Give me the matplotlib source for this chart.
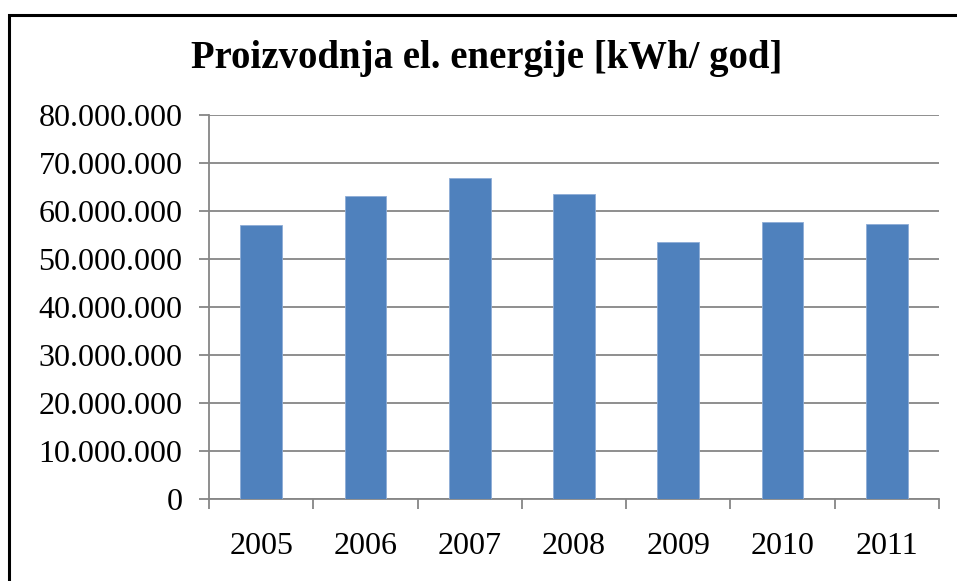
import matplotlib.pyplot as plt
from matplotlib.patches import Rectangle
from matplotlib.ticker import FuncFormatter, MultipleLocator

# data
years = ['2005', '2006', '2007', '2008', '2009', '2010', '2011']
energy_kwh = [57.0e6, 63.1e6, 66.8e6, 63.5e6, 53.5e6, 57.6e6, 57.2e6]

title = 'Proizvodnja el. energije [kWh/ god]'

plt.rcParams['font.family'] = ['Liberation Serif', 'DejaVu Serif']

fig = plt.figure(figsize=(9.57, 5.81), dpi=100)
ax = fig.add_axes([0.2184, 0.1417, 0.7628, 0.6604])

x = range(len(years))
ax.bar(x, energy_kwh, width=0.4, color='#4F81BD', edgecolor='#8EACD6',
       linewidth=0.6, zorder=3)

ax.set_xlim(-0.5, len(years) - 0.5)
ax.set_ylim(0, 80e6)
ax.yaxis.set_major_locator(MultipleLocator(10e6))
ax.yaxis.set_major_formatter(
    FuncFormatter(lambda v, p: f'{int(v):,}'.replace(',', '.')))

# ticks between categories, labels in the middle
ax.set_xticks([i - 0.5 for i in range(len(years) + 1)])
ax.set_xticklabels([])
ax.set_xticks(list(x), minor=True)
ax.set_xticklabels(years, minor=True)
ax.tick_params(axis='x', which='minor', length=0, pad=24, labelsize=23)
ax.tick_params(axis='x', which='major', length=7, width=1.3, color='#868686',
               direction='out')
ax.tick_params(axis='y', length=7, width=1.3, color='#868686', pad=12,
               labelsize=23, direction='out')

ax.grid(axis='y', color='#868686', linewidth=1.3, zorder=0)
for s in ['top', 'right']:
    ax.spines[s].set_visible(False)
for s in ['left', 'bottom']:
    ax.spines[s].set_color('#868686')
    ax.spines[s].set_linewidth(1.3)

fig.text(0.509, 0.90, title, ha='center', va='center', fontsize=27.9,
         fontweight='bold')

# chart frame, cut off at the right and bottom
fig.patches.append(Rectangle((9 / 957, -0.1), 1.2, 1 - 15 / 581 + 0.1,
                             transform=fig.transFigure, fill=False,
                             edgecolor='black', linewidth=2.2))

fig.savefig('out.png', dpi=100)
